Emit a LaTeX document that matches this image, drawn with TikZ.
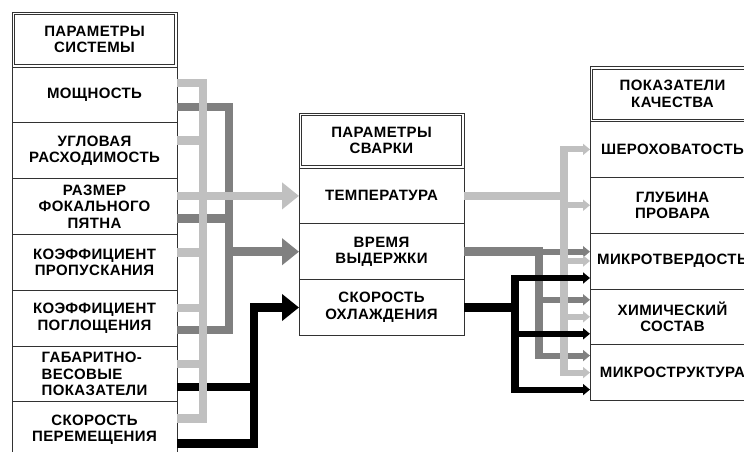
\documentclass[tikz,border=0pt]{standalone}
\usepackage{fontspec}
\setmainfont{Liberation Sans}
\newfontfamily\boxfont[LetterSpace=2.5]{Liberation Sans}
\usetikzlibrary{arrows.meta,positioning}
\definecolor{lg}{RGB}{192,192,192}
\definecolor{dg}{RGB}{128,128,128}
\definecolor{ln}{RGB}{50,50,50}
\tikzset{cell/.style={draw=ln,line width=.8pt,fill=white,minimum width=165pt,minimum height=55.8pt,
   inner sep=0pt,outer sep=0pt,align=center,font=\boxfont\bfseries\fontsize{15}{16.5}\selectfont},
 hdr/.style={cell,minimum height=55pt},
 lite/.style={draw=lg,line width=8.5pt},dark/.style={lite,draw=dg},blk/.style={lite,draw=black},
 big/.style={-{Triangle[length=17pt,width=26pt]}},
 tip/.style={line width=6pt,-{Triangle[length=7pt,width=11pt]}}}

\begin{document}
\begin{tikzpicture}[x=1pt,y=-1pt]
\fill[white,use as bounding box] (0,0) rectangle (744,452);
\clip (0,0) rectangle (744,452);
% system parameters
\node[hdr,anchor=north west] (sys) at (12,12) {ПАРАМЕТРЫ\\СИСТЕМЫ};
\node[cell,below=0pt of sys] (pow) {МОЩНОСТЬ};
\node[cell,below=0pt of pow] (ang) {УГЛОВАЯ\\РАСХОДИМОСТЬ};
\node[cell,below=0pt of ang] (spot) {РАЗМЕР\\ФОКАЛЬНОГО\\ПЯТНА};
\node[cell,below=0pt of spot] (trans) {КОЭФФИЦИЕНТ\\ПРОПУСКАНИЯ};
\node[cell,below=0pt of trans] (abs) {КОЭФФИЦИЕНТ\\ПОГЛОЩЕНИЯ};
\node[cell,below=0pt of abs,align=left] (dims) {ГАБАРИТНО-\\ВЕСОВЫЕ\\ПОКАЗАТЕЛИ};
\node[cell,below=0pt of dims] (speed) {СКОРОСТЬ\\ПЕРЕМЕЩЕНИЯ};
% welding parameters
\node[hdr,anchor=north west] (weld) at (299,113) {ПАРАМЕТРЫ\\СВАРКИ};
\node[cell,below=0pt of weld] (temp) {ТЕМПЕРАТУРА};
\node[cell,below=0pt of temp] (hold) {ВРЕМЯ\\ВЫДЕРЖКИ};
\node[cell,below=0pt of hold] (cool) {СКОРОСТЬ\\ОХЛАЖДЕНИЯ};
% quality
\node[hdr,anchor=north west] (qual) at (590,66.5) {ПОКАЗАТЕЛИ\\КАЧЕСТВА};
\node[cell,below=0pt of qual] (rough) {ШЕРОХОВАТОСТЬ};
\node[cell,below=0pt of rough] (depth) {ГЛУБИНА\\ПРОВАРА};
\node[cell,below=0pt of depth] (micro) {МИКРОТВЕРДОСТЬ};
\node[cell,below=0pt of micro] (chem) {ХИМИЧЕСКИЙ\\СОСТАВ};
\node[cell,below=0pt of chem] (struct) {МИКРОСТРУКТУРА};
\foreach \h in {sys,weld,qual}
  \draw[ln,line width=.8pt] ([shift={(2.5,2.5)}]\h.north west) rectangle ([shift={(-2.5,-2.5)}]\h.south east);
% buses left
\coordinate (lb) at (203,250);\coordinate (db) at (229,220);\coordinate (kb) at (254,400);
\draw[dark] ([yshift=-12]pow.east) -| (db) |- ([yshift=-12]abs.east);
\draw[dark] ([yshift=-12]spot.east) -- ([yshift=-12]spot.east -| db);
\draw[dark,big] (db |- hold.west) -- (hold.west);
\draw[blk,big] ([yshift=-14]speed.east) -| (kb |- cool.west) -- (cool.west);
\draw[blk] ([yshift=-13]dims.east) -- ([yshift=-13]dims.east -| kb);
\draw[lite] ([yshift=12]pow.east) -| (lb) |- ([yshift=11]speed.east);
\foreach \r in {ang,trans,abs,dims} \draw[lite] ([yshift=10]\r.east) -- ([yshift=10]\r.east -| lb);
\draw[lite,big] (spot.east |- temp.west) -- (temp.west);
% buses right
\coordinate (rk) at (515,330);\coordinate (rd) at (539,300);\coordinate (rl) at (564,260);
\draw[dark] (hold.east) -- (hold.east -| rd);
\draw[dark] ([yshift=4.25]hold.east -| rd) -- ([yshift=14]struct.west -| rd);
\draw[dark,tip] (hold.east -| rd) -- (hold.east -| micro.west);
\foreach \r in {chem,struct} \draw[dark,tip] ([yshift=17]\r.west -| rd) -- ([yshift=17]\r.west);
\draw[lite] (temp.east) -- (temp.east -| rl);
\draw[lite] ([yshift=3]rough.west -| rl) -- ([yshift=-3]struct.west -| rl);
\foreach \r in {rough,depth,micro,chem,struct} \draw[lite,tip] (\r.west -| rl) -- (\r.west);
\draw[blk] (cool.east) -- (cool.east -| rk);
\draw[blk] ([yshift=-14]micro.west -| rk) -- ([yshift=-20]struct.west -| rk);
\foreach \r in {micro,chem,struct} \draw[blk,tip] ([yshift=-17]\r.west -| rk) -- ([yshift=-17]\r.west);
\end{tikzpicture}
\end{document}
